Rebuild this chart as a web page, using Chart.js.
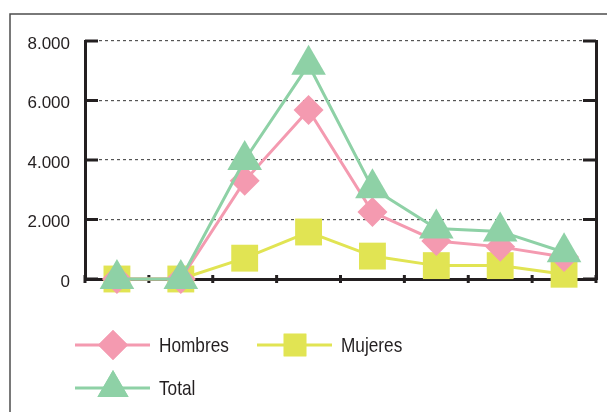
<!DOCTYPE html>
<html>
<head>
<meta charset="utf-8">
<script src="https://cdn.jsdelivr.net/npm/chart.js@4.4.0/dist/chart.umd.min.js"></script>
<style>
    html, body { margin: 0; padding: 0; background: #ffffff; overflow: hidden; }
    canvas { display: block; }
</style>
</head>
<body>
<canvas id="lineChart" width="607" height="412"></canvas>
<script>
// Datos del gráfico
const categorias = ['1', '2', '3', '4', '5', '6', '7', '8'];
const hombres = [0, 0, 3300, 5680, 2250, 1280, 1080, 740];
const mujeres = [0, 0, 700, 1580, 770, 450, 450, 160];
const total = [0, 0, 4000, 7200, 3050, 1700, 1600, 900];
const ticksY = [0, 2000, 4000, 6000, 8000];

const FUENTE = "'Liberation Sans', Arial, sans-serif";
const TEXTO = '#231f20';

function formatoMiles(v) {
    return String(v).replace(/\B(?=(\d{3})+(?!\d))/g, '.');
}

// Marco y marcas de los ejes hacia dentro
const marcoPlugin = {
    id: 'marco',
    beforeDatasetsDraw(chart) {
        const ctx = chart.ctx;
        const area = chart.chartArea;
        const y = chart.scales.y;
        const x = chart.scales.x;
        ctx.save();
        // marco exterior
        ctx.strokeStyle = '#4d4d4d';
        ctx.lineWidth = 1.5;
        ctx.beginPath();
        ctx.moveTo(10, chart.height);
        ctx.lineTo(10, 14);
        ctx.lineTo(chart.width, 14);
        ctx.stroke();
        // marcas del eje Y (izq. y der.)
        ctx.strokeStyle = '#231f20';
        ctx.lineWidth = 3;
        ticksY.forEach(v => {
            const py = y.getPixelForValue(v);
            ctx.beginPath();
            ctx.moveTo(area.left, py);
            ctx.lineTo(area.left + 13, py);
            ctx.moveTo(area.right, py);
            ctx.lineTo(area.right - 13, py);
            ctx.stroke();
        });
        // marcas del eje X
        for (let i = 0; i <= categorias.length; i++) {
            const px = x.getPixelForValue(i - 0.5);
            ctx.beginPath();
            ctx.moveTo(px, area.bottom - 4);
            ctx.lineTo(px, area.bottom + 4);
            ctx.stroke();
        }
        ctx.restore();
    }
};

// Leyenda dibujada a mano (línea + marcador)
const leyendaPlugin = {
    id: 'leyendaLinea',
    afterDraw(chart) {
        const ctx = chart.ctx;
        const items = [
            {ds: 1, x: 75, y: 345, r: 15},
            {ds: 2, x: 257, y: 345, r: 16},
            {ds: 0, x: 75, y: 388, r: 18}
        ];
        ctx.save();
        items.forEach(it => {
            const d = chart.data.datasets[it.ds];
            ctx.strokeStyle = d.borderColor;
            ctx.lineWidth = 3;
            ctx.beginPath();
            ctx.moveTo(it.x, it.y);
            ctx.lineTo(it.x + 75, it.y);
            ctx.stroke();
            ctx.fillStyle = d.backgroundColor;
            Chart.helpers.drawPoint(ctx, {pointStyle: d.pointStyle, rotation: 0, radius: it.r, borderWidth: 0}, it.x + 38, it.y);
            ctx.fill();
            // texto estrecho, como en el original
            ctx.save();
            ctx.translate(it.x + 84, it.y + 7);
            ctx.scale(0.82, 1);
            ctx.fillStyle = TEXTO;
            ctx.font = '21px ' + FUENTE;
            ctx.textBaseline = 'alphabetic';
            ctx.fillText(d.label, 0, 0);
            ctx.restore();
        });
        ctx.restore();
    }
};

const ctx = document.getElementById('lineChart').getContext('2d');
new Chart(ctx, {
    type: 'line',
    data: {
        labels: categorias,
        datasets: [
            {
                label: 'Total', data: total, order: 0,
                borderColor: '#8ed1a6', backgroundColor: '#8ed1a6',
                pointStyle: 'triangle', pointRadius: 20, pointBorderWidth: 0
            },
            {
                label: 'Hombres', data: hombres, order: 1,
                borderColor: '#f49ab0', backgroundColor: '#f49ab0',
                pointStyle: 'rectRot', pointRadius: 15, pointBorderWidth: 0
            },
            {
                label: 'Mujeres', data: mujeres, order: 2,
                borderColor: '#e1e453', backgroundColor: '#e1e453',
                pointStyle: 'rect', pointRadius: 19, pointBorderWidth: 0
            }
        ]
    },
    options: {
        responsive: false,
        animation: false,
        events: [],
        devicePixelRatio: 1,
        elements: { line: { borderWidth: 3, tension: 0 } },
        datasets: { line: { clip: false } },
        layout: { autoPadding: false, padding: { left: 0, top: 41, right: 0, bottom: 133 } },
        plugins: { legend: { display: false }, tooltip: { enabled: false } },
        scales: {
            x: {
                offset: true,
                ticks: { display: false },
                grid: { display: false },
                border: { display: true, color: '#231f20', width: 3 },
                afterFit: s => { s.height = 0; }
            },
            y: {
                min: 0, max: 8000,
                afterBuildTicks: s => { s.ticks = ticksY.map(v => ({value: v})); },
                afterFit: s => { s.width = 85; },
                ticks: {
                    padding: 15,
                    labelOffset: 3,
                    color: TEXTO,
                    font: { family: FUENTE, size: 17 },
                    callback: v => formatoMiles(v)
                },
                grid: {
                    drawTicks: false,
                    color: c => c.tick && c.tick.value === 0 ? 'rgba(0,0,0,0)' : '#555555',
                    lineWidth: 1.2
                },
                border: { display: true, color: '#231f20', width: 3, dash: [3, 3] }
            },
            y2: {
                position: 'right',
                min: 0, max: 8000,
                afterFit: s => { s.width = 11; },
                ticks: { display: false },
                grid: { display: false },
                border: { display: true, color: '#231f20', width: 3 }
            }
        }
    },
    plugins: [marcoPlugin, leyendaPlugin]
});
</script>
</body>
</html>
